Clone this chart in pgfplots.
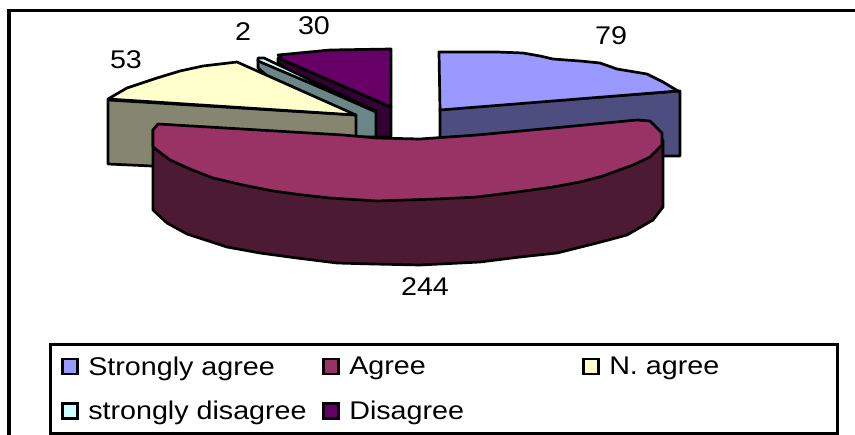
\documentclass[border=0pt]{standalone}
\usepackage{pgfplots}
\pgfplotsset{compat=1.18}
\usepackage{fontspec}
\setmainfont[FakeStretch=1.12]{Liberation Sans}
\definecolor{blueTop}{HTML}{9999FF}
\definecolor{blueSide}{HTML}{4D4D80}
\definecolor{wineTop}{HTML}{993366}
\definecolor{wineSide}{HTML}{4D1A33}
\definecolor{creamTop}{HTML}{FFFFCC}
\definecolor{creamSide}{HTML}{868670}
\definecolor{tealTop}{HTML}{CCFFFF}
\definecolor{tealSide}{HTML}{6A8686}
\definecolor{plumTop}{HTML}{660066}
\definecolor{plumSide}{HTML}{330033}
\pgfplotsset{
  slice/.style={draw=black,line width=2.7pt,line join=round,fill=#1,forget plot},
  swatch/.style={legend image code/.code={
    \path[draw=none,fill=none] (-12pt,-22.3pt) rectangle (26pt,22.3pt);
    \draw[fill=#1,draw=black,line width=2.6pt] (0pt,-7.5pt) rectangle (15pt,7.5pt);}},
}
\begin{document}
\begin{tikzpicture}
\begin{axis}[
  scale only axis,width=855pt,height=434pt,
  xmin=0,xmax=855,ymin=0,ymax=434,y dir=reverse,
  hide axis,clip=true,
  legend columns=3,
  legend cell align=left,
  legend style={
    at={(axis cs:49,343)},anchor=north west,
    draw=black,line width=2.6pt,fill=white,
    inner xsep=0pt,inner ysep=0pt,
    nodes={inner sep=0pt,outer sep=0pt,draw=none},
    font=\fontsize{25.6}{28}\selectfont,
    row sep=0pt,
    /tikz/column 2/.style={column sep=0pt},
    /tikz/column 4/.style={column sep=0pt},
  },
]
% canvas and chart frame
\addplot[fill=white,draw=none,forget plot] coordinates {(0,0)(855,0)(855,434)(0,434)} --cycle;
\addplot[draw=black,line width=3.8pt,forget plot] coordinates {(9,440)(9,10.5)(860,10.5)};

% Disagree (30)
\addplot[slice=plumSide] coordinates {(278,58)(391,107)(391,137)(360,137)(278,62)} --cycle;
\addplot[slice=plumTop] coordinates {(278,55)(330,50)(391,49)(391,107)(283,60)} --cycle;
% strongly disagree (2)
\addplot[slice=tealSide] coordinates {(258,60)(376,112)(376,137)(340,137)(258,68)} --cycle;
\addplot[slice=tealTop] coordinates {(258,58)(264,58)(376,111)(258,61)} --cycle;
% N. agree (53)
\addplot[slice=creamSide] coordinates {(108,100)(356,115)(356,137)(152,166)(108,164)} --cycle;
\addplot[slice=creamTop] coordinates {(108,99)(127,88)(157,78)(180,71)(203,66)(237,62)(356,115)} --cycle;
% Strongly agree (79)
\addplot[slice=blueSide] coordinates {(440,109)(680,91)(680,156)(640,156)(440,140)} --cycle;
\addplot[slice=blueTop] coordinates {(439,52)(497,52)(523,53)(540,56)(553,59)(580,61)(600,63)(617,69)(647,74)(663,82)(678,91)(440,110)} --cycle;
% Agree (244)
\addplot[slice=wineSide] coordinates {(153,130)(153,210)(167,223)(187,234)(227,247)(260,253)(297,258)(337,263)(373,264)(420,265)(480,262)(520,257)(557,253)(597,243)(627,235)(653,220)(663,207)(663,140)(600,160)(400,190)(200,170)} --cycle;
\addplot[slice=wineTop] coordinates {(158,124)(153,130)(153,147)(170,160)(190,169)(213,178)(243,185)(273,191)(303,195)(330,198)(377,201)(437,199)(477,197)(517,192)(553,187)(580,182)(603,176)(633,165)(650,157)(662,145)(662,133)(650,121)(637,120)(553,128)(477,135)(420,139)(377,138)(343,135)} --cycle;

% value labels
\addplot[only marks,mark=none,forget plot,nodes near coords,
  point meta=explicit symbolic,
  every node near coord/.style={font=\fontsize{25.6}{28}\selectfont,anchor=center,text=black}]
  table[meta=v] {
x y v
611 36 79
425 287 244
126 60 53
243 32 2
314 26 30
};

% legend entries
\addlegendimage{swatch=blueTop}\addlegendentry{\makebox[223pt][l]{Strongly agree}}
\addlegendimage{swatch=wineTop}\addlegendentry{\makebox[222pt][l]{Agree}}
\addlegendimage{swatch=creamTop}\addlegendentry{\makebox[228pt][l]{N. agree}}
\addlegendimage{swatch=tealTop}\addlegendentry{\makebox[223pt][l]{strongly disagree}}
\addlegendimage{swatch=plumTop}\addlegendentry{\makebox[222pt][l]{Disagree}}
\end{axis}
\end{tikzpicture}
\end{document}
